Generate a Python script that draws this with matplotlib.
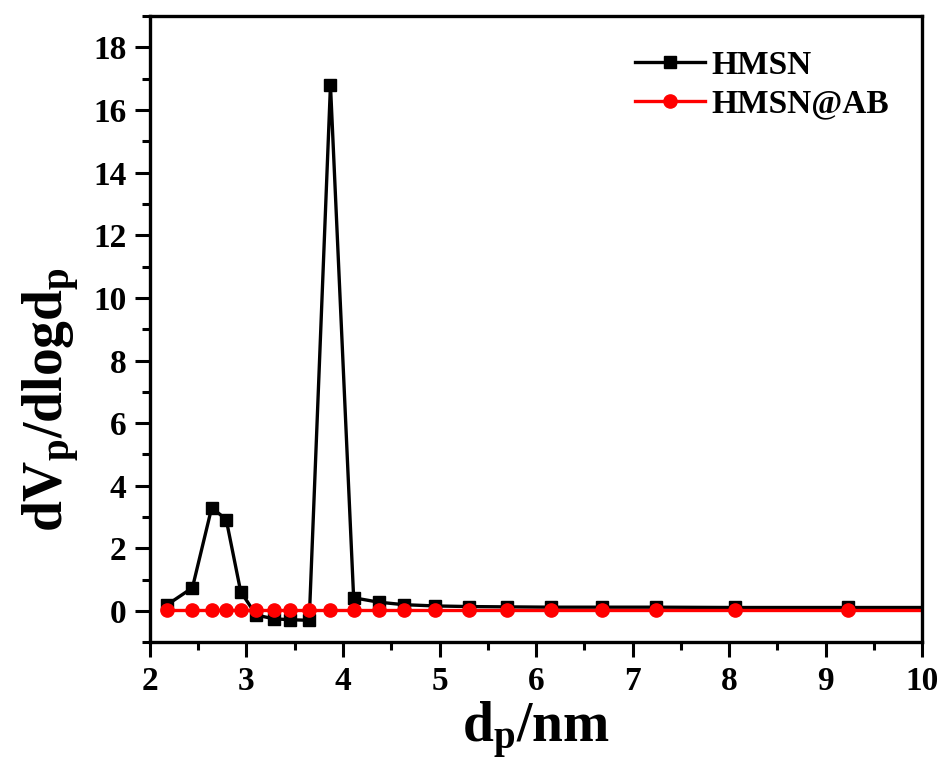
import matplotlib
matplotlib.use("Agg")
import matplotlib.pyplot as plt
from matplotlib.ticker import MultipleLocator

# pore diameter (nm)
dp = [2.18, 2.44, 2.64, 2.79, 2.94, 3.10, 3.28, 3.45, 3.65, 3.87, 4.11,
      4.37, 4.63, 4.95, 5.30, 5.70, 6.15, 6.68, 7.24, 8.06, 9.23, 10.9]

# dVp/dlogdp
hmsn = [0.20, 0.74, 3.30, 2.92, 0.62, -0.13, -0.25, -0.28, -0.30, 16.8, 0.42,
        0.28, 0.20, 0.16, 0.14, 0.13, 0.12, 0.12, 0.12, 0.11, 0.11, 0.11]
hmsn_ab = [0.02, 0.02, 0.02, 0.02, 0.02, 0.02, 0.02, 0.02, 0.02, 0.02, 0.02,
           0.02, 0.02, 0.02, 0.02, 0.02, 0.02, 0.02, 0.02, 0.02, 0.02, 0.02]

plt.rcParams["font.family"] = "Liberation Serif"
plt.rcParams["font.weight"] = "bold"
plt.rcParams["mathtext.fontset"] = "custom"
plt.rcParams["mathtext.rm"] = "Liberation Serif:bold"
plt.rcParams["mathtext.it"] = "Liberation Serif:bold"
plt.rcParams["mathtext.bf"] = "Liberation Serif:bold"

fig = plt.figure(figsize=(9.43, 7.71), dpi=100)
ax = fig.add_axes([0.159, 0.167, 0.819, 0.812])

ax.plot(dp, hmsn, color="black", lw=2.4, marker="s", ms=8.5, label="HMSN")
ax.plot(dp, hmsn_ab, color="#ff0000", lw=2.4, marker="o", ms=9.5, label="HMSN@AB")

ax.set_xlim(2, 10)
ax.set_ylim(-1, 19)
ax.xaxis.set_major_locator(MultipleLocator(1))
ax.xaxis.set_minor_locator(MultipleLocator(0.5))
ax.yaxis.set_major_locator(MultipleLocator(2))
ax.yaxis.set_minor_locator(MultipleLocator(1))
ax.tick_params(which="major", direction="out", length=11, width=2.2,
               labelsize=24, pad=6)
ax.tick_params(which="minor", direction="out", length=6, width=2.2)
for s in ax.spines.values():
    s.set_linewidth(2.4)

ax.set_xlabel(r"$\mathrm{d_p/nm}$", fontsize=40, labelpad=2)
ax.set_ylabel(r"$\mathrm{dV_p/dlogd_p}$", fontsize=40)
ax.yaxis.set_label_coords(-0.088, 0.387)

leg = ax.legend(loc="upper left", frameon=False, fontsize=24,
                handlelength=2.1, handletextpad=0.2, labelspacing=0.22,
                borderpad=0, borderaxespad=0, bbox_to_anchor=(0.628, 0.946))

fig.savefig("out.png", dpi=100)
